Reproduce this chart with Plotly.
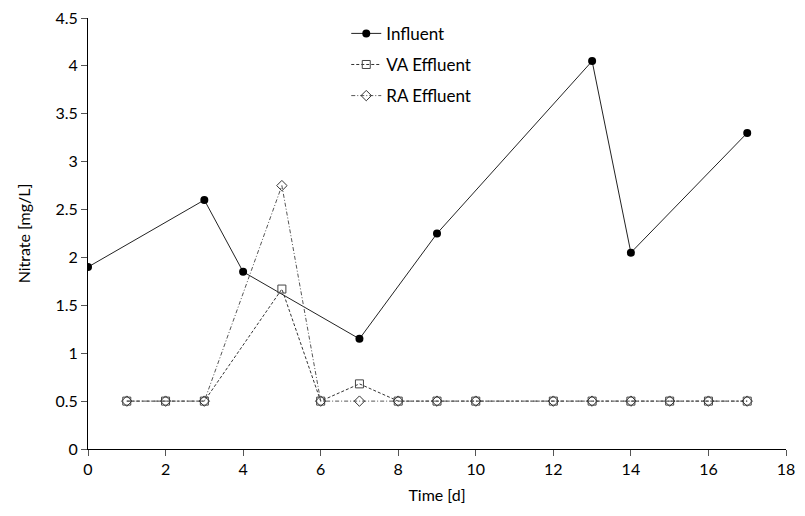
import plotly.graph_objects as go

inf_days = [0, 3, 4, 7, 9, 13, 14, 17]
inf_vals = [1.9, 2.6, 1.85, 1.15, 2.25, 4.05, 2.05, 3.3]

eff_days = [1, 2, 3, 5, 6, 7, 8, 9, 10, 12, 13, 14, 15, 16, 17]
va_vals = [0.5, 0.5, 0.5, 1.67, 0.5, 0.68, 0.5, 0.5, 0.5, 0.5, 0.5, 0.5, 0.5, 0.5, 0.5]
ra_vals = [0.5, 0.5, 0.5, 2.75, 0.5, 0.5, 0.5, 0.5, 0.5, 0.5, 0.5, 0.5, 0.5, 0.5, 0.5]

FONT = "Lato, 'Open Sans', sans-serif"

fig = go.Figure()
fig.add_trace(go.Scatter(
    x=inf_days, y=inf_vals, name="Influent", mode="lines+markers", legendgroup="a",
    line=dict(color="#222222", width=1),
    marker=dict(symbol="circle", size=8, color="black"),
))
fig.add_trace(go.Scatter(
    x=eff_days, y=va_vals, name="VA Effluent", mode="lines+markers", legendgroup="b",
    line=dict(color="#333333", width=1, dash="3px,2px"),
    marker=dict(symbol="square-open", size=8, color="#444444", line=dict(width=1)),
))
fig.add_trace(go.Scatter(
    x=eff_days, y=ra_vals, name="RA Effluent", mode="lines+markers", legendgroup="c",
    line=dict(color="#555555", width=1, dash="4px,2px,1px,2px"),
    marker=dict(symbol="diamond-open", size=8, color="#333333", line=dict(width=1)),
))

fig.update_layout(
    width=805, height=516,
    margin=dict(l=80, r=27, t=8, b=75),
    plot_bgcolor="white", paper_bgcolor="white",
    font=dict(family=FONT, size=16, color="black"),
    showlegend=True,
    legend=dict(x=0.37, y=1.005, xanchor="left", yanchor="top",
                bgcolor="rgba(0,0,0,0)", font=dict(size=17, family=FONT),
                traceorder="grouped", tracegroupgap=6, itemwidth=30),
)
fig.update_xaxes(
    range=[0, 18], dtick=2, tick0=0, showgrid=False, zeroline=False,
    showline=True, linecolor="black", linewidth=1, automargin=False,
    ticks="outside", ticklen=6, tickcolor="#555555", ticklabeloverflow="allow",
    title=dict(text="Time [d]", font=dict(size=16), standoff=12),
)
fig.update_yaxes(
    range=[0, 4.5], dtick=0.5, tick0=0, showgrid=False, zeroline=False,
    showline=True, linecolor="black", linewidth=1, automargin=False,
    ticks="outside", ticklen=6, tickcolor="#555555", ticklabeloverflow="allow",
    title=dict(text="Nitrate [mg/L]", font=dict(size=16), standoff=20),
)

fig.write_html("out.html")
